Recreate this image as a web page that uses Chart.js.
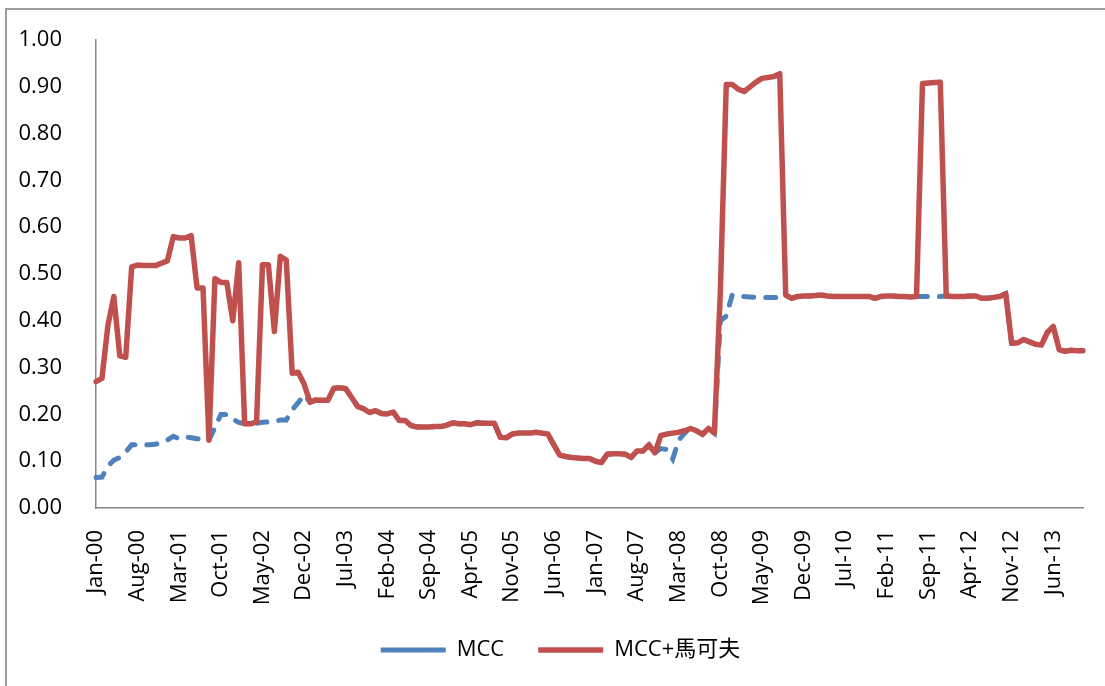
<!DOCTYPE html>
<html>
<head>
<meta charset="utf-8">
<script src="https://cdn.jsdelivr.net/npm/chart.js@4.4.1/dist/chart.umd.min.js"></script>
<style>
html, body { margin: 0; padding: 0; background: #fff; }
canvas { display: block; }
</style>
</head>
<body>
<canvas id="myChart" width="1105" height="686"></canvas>
<script>
// monthly series, Jan-00 .. Nov-13
const monthNames = ['Jan', 'Feb', 'Mar', 'Apr', 'May', 'Jun', 'Jul', 'Aug', 'Sep', 'Oct', 'Nov', 'Dec'];
const yearCodes = ['00', '01', '02', '03', '04', '05', '06', '07', '08', '09', '10', '11', '12', '13'];

const mcc = [
    0.065, 0.066, 0.090, 0.102, 0.108, 0.120, 0.135, 0.135, 0.135, 0.135,
    0.136, 0.140, 0.145, 0.153, 0.148, 0.152, 0.150, 0.148, 0.146, 0.145,
    0.172, 0.200, 0.200, 0.190, 0.183, 0.180, 0.180, 0.181, 0.183, 0.184,
    0.185, 0.188, 0.188, 0.210, 0.225, 0.242, 0.226, 0.231, 0.230, 0.230,
    0.256, 0.257, 0.255, 0.236, 0.217, 0.212, 0.204, 0.208, 0.202, 0.201,
    0.205, 0.187, 0.187, 0.176, 0.173, 0.173, 0.173, 0.174, 0.174, 0.177,
    0.182, 0.180, 0.180, 0.178, 0.182, 0.181, 0.181, 0.181, 0.151, 0.150,
    0.158, 0.160, 0.160, 0.160, 0.162, 0.160, 0.158, 0.135, 0.113, 0.110,
    0.108, 0.107, 0.106, 0.106, 0.100, 0.097, 0.115, 0.116, 0.116, 0.115,
    0.108, 0.122, 0.122, 0.135, 0.118, 0.127, 0.125, 0.105, 0.145, 0.160,
    0.172, 0.165, 0.158, 0.170, 0.160, 0.400, 0.410, 0.455, 0.454, 0.452,
    0.451, 0.450, 0.450, 0.450, 0.450, 0.450, 0.455, 0.448, 0.452, 0.453,
    0.453, 0.454, 0.455, 0.453, 0.452, 0.452, 0.452, 0.452, 0.452, 0.452,
    0.452, 0.448, 0.452, 0.453, 0.453, 0.452, 0.452, 0.451, 0.452, 0.452,
    0.452, 0.452, 0.452, 0.453, 0.452, 0.452, 0.452, 0.453, 0.453, 0.448,
    0.448, 0.450, 0.452, 0.458, 0.352, 0.353, 0.360, 0.355, 0.350, 0.348,
    0.375, 0.388, 0.338, 0.335, 0.337, 0.336, 0.336
];

const mccMarkov = [
    0.270, 0.277, 0.390, 0.452, 0.325, 0.322, 0.515, 0.519, 0.518, 0.518,
    0.518, 0.523, 0.528, 0.580, 0.577, 0.577, 0.582, 0.470, 0.470, 0.145,
    0.490, 0.482, 0.482, 0.400, 0.524, 0.180, 0.180, 0.184, 0.520, 0.520,
    0.377, 0.538, 0.530, 0.288, 0.290, 0.265, 0.226, 0.231, 0.230, 0.230,
    0.256, 0.257, 0.255, 0.236, 0.217, 0.212, 0.204, 0.208, 0.202, 0.201,
    0.205, 0.187, 0.187, 0.176, 0.173, 0.173, 0.173, 0.174, 0.174, 0.177,
    0.182, 0.180, 0.180, 0.178, 0.182, 0.181, 0.181, 0.181, 0.151, 0.150,
    0.158, 0.160, 0.160, 0.160, 0.162, 0.160, 0.158, 0.135, 0.113, 0.110,
    0.108, 0.107, 0.106, 0.106, 0.100, 0.097, 0.115, 0.116, 0.116, 0.115,
    0.108, 0.122, 0.122, 0.135, 0.118, 0.155, 0.158, 0.160, 0.162, 0.165,
    0.170, 0.165, 0.157, 0.170, 0.160, 0.460, 0.905, 0.905, 0.895, 0.890,
    0.900, 0.910, 0.918, 0.920, 0.922, 0.928, 0.455, 0.448, 0.452, 0.453,
    0.453, 0.454, 0.455, 0.453, 0.452, 0.452, 0.452, 0.452, 0.452, 0.452,
    0.452, 0.448, 0.452, 0.453, 0.453, 0.452, 0.452, 0.451, 0.452, 0.907,
    0.908, 0.909, 0.910, 0.453, 0.452, 0.452, 0.452, 0.453, 0.453, 0.448,
    0.448, 0.450, 0.452, 0.458, 0.352, 0.353, 0.360, 0.355, 0.350, 0.348,
    0.375, 0.388, 0.338, 0.335, 0.337, 0.336, 0.336
];

const yTicks = [0, 0.1, 0.2, 0.3, 0.4, 0.5, 0.6, 0.7, 0.8, 0.9, 1.0];

let labels = [];
yearCodes.forEach(yy => {
    monthNames.forEach(mm => labels.push(mm + '-' + yy));
});
labels = labels.slice(0, mcc.length);

const fontFamily = "'Open Sans', 'Noto Sans CJK TC', sans-serif";
const axisColor = '#868686';
const legendGap = 34;

// white background and the thin grey frame round the chart
const frame = {
    id: 'frame',
    beforeDraw(chart) {
        const c = chart.ctx;
        c.save();
        c.fillStyle = '#fff';
        c.fillRect(0, 0, chart.width, chart.height);
        c.strokeStyle = '#9c9c9c';
        c.lineWidth = 2;
        c.strokeRect(6, 9, chart.width + 20, chart.height + 20);
        c.restore();
    },
    // nudge the legend a little to the right of centre
    afterLayout(chart) {
        if (chart.legend) {
            chart.legend.left += 16;
            chart.legend.right += 16;
        }
    }
};

const ctx = document.getElementById('myChart');

const chart = new Chart(ctx, {
    type: 'line',
    data: {
        labels: labels,
        datasets: [
            {
                label: 'MCC',
                data: mcc,
                borderColor: '#4F81BD',
                backgroundColor: '#4F81BD',
                borderWidth: 5,
                borderDash: [10, 12],
                borderCapStyle: 'round',
                pointRadius: 0,
                tension: 0,
                fill: false,
                order: 1
            },
            {
                label: 'MCC+馬可夫',
                data: mccMarkov,
                borderColor: '#C0504D',
                backgroundColor: '#C0504D',
                borderWidth: 5.5,
                borderCapStyle: 'round',
                borderJoinStyle: 'round',
                pointRadius: 0,
                tension: 0,
                fill: false,
                order: 0
            }
        ]
    },
    options: {
        responsive: false,
        animation: false,
        devicePixelRatio: 1,
        layout: {
            padding: { left: 6, right: 22, top: 40, bottom: 15 }
        },
        plugins: {
            tooltip: { enabled: false },
            legend: {
                position: 'bottom',
                labels: {
                    color: '#000',
                    font: { size: 22, family: fontFamily },
                    usePointStyle: true,
                    pointStyle: 'line',
                    pointStyleWidth: 65,
                    padding: legendGap,
                    sort: (a, b) => a.datasetIndex - b.datasetIndex
                }
            }
        },
        scales: {
            x: {
                offset: false,
                grid: { display: false },
                border: { display: true, color: axisColor, width: 1.5 },
                ticks: {
                    autoSkip: false,
                    maxRotation: 90,
                    minRotation: 90,
                    padding: 14,
                    color: '#000',
                    font: { size: 22, family: fontFamily },
                    callback: function (value, index) {
                        return index % 7 === 0 ? this.getLabelForValue(value) : null;
                    }
                },
                // legend takes 32 + legendGap px below, keep axis at y = 508
                afterFit: scale => { scale.height = 686 - 15 - (32 + legendGap) - 508; }
            },
            y: {
                min: 0,
                max: 1,
                grid: { display: false },
                border: { display: true, color: axisColor, width: 1.5 },
                afterBuildTicks: scale => {
                    scale.ticks = yTicks.map(v => ({ value: v }));
                },
                ticks: {
                    padding: 26,
                    color: '#000',
                    font: { size: 22, family: fontFamily },
                    callback: value => value.toFixed(2)
                },
                afterFit: scale => { scale.width = 90; }
            }
        }
    },
    plugins: [frame]
});
</script>
</body>
</html>
